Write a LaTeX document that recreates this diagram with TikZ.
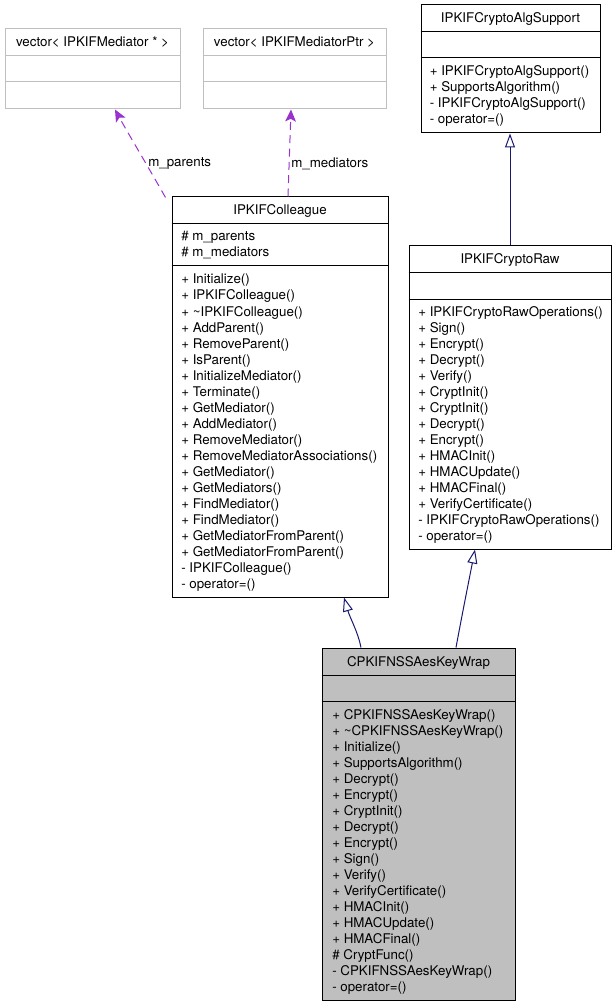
\documentclass[tikz,border=0pt]{standalone}
\usepackage{fontspec}
\setmainfont{TeX Gyre Heros}
\usetikzlibrary{arrows.meta,fit,calc}
\definecolor{inhcol}{HTML}{191970}
\definecolor{depcol}{HTML}{9A32CD}
\definecolor{grayline}{HTML}{BFBFBF}
\definecolor{grayfill}{HTML}{BFBFBF}
\newcommand\memlist[4]{\foreach \t [count=\i from 0] in {#4}{\node[mem] (#1-\i) at (#2,{#3+16*\i}) {\t};}}
\begin{document}
\begin{tikzpicture}[x=0.75pt,y=-0.75pt,
  every node/.style={font=\fontsize{10}{12}\selectfont},
  cls/.style={draw=black,line width=0.75pt,inner sep=0pt,rectangle},
  graycls/.style={draw=grayline,line width=0.75pt,inner sep=0pt,rectangle},
  divider/.style={line width=0.75pt},
  mem/.style={anchor=base west,inner sep=0pt},
  ttl/.style={anchor=base,inner sep=0pt},
  inh/.style={draw=inhcol,line width=0.75pt,-{Triangle[open,length=10.5pt,width=7.5pt]}},
  dep/.style={draw=depcol,line width=0.75pt,dash pattern=on 6pt off 4pt,-{Stealth[length=9pt,width=8pt,inset=2pt]}},
  lbl/.style={anchor=west,inner sep=0pt}]
\useasboundingbox (0,0) rectangle (615,1005);

% vector< IPKIFMediator * >
\node[graycls,fit={(5,29) (180,109)}] (vec1) {};
\draw[divider,grayline] (vec1.west |- 0,56) -- (vec1.east |- 0,56);
\draw[divider,grayline] (vec1.west |- 0,82) -- (vec1.east |- 0,82);
\node[ttl] (vec1t) at (92.5,47) {vector< IPKIFMediator * >};

% vector< IPKIFMediatorPtr >
\node[graycls,fit={(203,29) (386,109)}] (vec2) {};
\draw[divider,grayline] (vec2.west |- 0,56) -- (vec2.east |- 0,56);
\draw[divider,grayline] (vec2.west |- 0,82) -- (vec2.east |- 0,82);
\node[ttl] (vec2t) at (294.5,47) {vector< IPKIFMediatorPtr >};

% IPKIFCryptoAlgSupport
\node[cls,fit={(421,5) (600,133)}] (alg) {};
\draw[divider] (alg.west |- 0,32) -- (alg.east |- 0,32);
\draw[divider] (alg.west |- 0,58) -- (alg.east |- 0,58);
\node[ttl] (algt) at (510.5,23) {IPKIFCryptoAlgSupport};
\memlist{algm}{429.5}{76}{{+ IPKIFCryptoAlgSupport()},{+ SupportsAlgorithm()},{- IPKIFCryptoAlgSupport()},{- operator=()}}

% IPKIFColleague
\node[cls,fit={(172,197) (388,597)}] (coll) {};
\draw[divider] (coll.west |- 0,224) -- (coll.east |- 0,224);
\draw[divider] (coll.west |- 0,266) -- (coll.east |- 0,266);
\node[ttl] (collt) at (280,215) {IPKIFColleague};
\memlist{colla}{181}{241}{{\# m\_parents},{\# m\_mediators}}
\memlist{collm}{181}{284}{{+ Initialize()},{+ IPKIFColleague()},{+ \textasciitilde IPKIFColleague()},{+ AddParent()},{+ RemoveParent()},{+ IsParent()},{+ InitializeMediator()},{+ Terminate()},{+ GetMediator()},{+ AddMediator()},{+ RemoveMediator()},{+ RemoveMediatorAssociations()},{+ GetMediator()},{+ GetMediators()},{+ FindMediator()},{+ FindMediator()},{+ GetMediatorFromParent()},{+ GetMediatorFromParent()},{- IPKIFColleague()},{- operator=()}}

% IPKIFCryptoRaw
\node[cls,fit={(409,246) (611,549)}] (raw) {};
\draw[divider] (raw.west |- 0,273) -- (raw.east |- 0,273);
\draw[divider] (raw.west |- 0,299) -- (raw.east |- 0,299);
\node[ttl] (rawt) at (510,264) {IPKIFCryptoRaw};
\memlist{rawm}{418}{316}{{+ IPKIFCryptoRawOperations()},{+ Sign()},{+ Encrypt()},{+ Decrypt()},{+ Verify()},{+ CryptInit()},{+ CryptInit()},{+ Decrypt()},{+ Encrypt()},{+ HMACInit()},{+ HMACUpdate()},{+ HMACFinal()},{+ VerifyCertificate()},{- IPKIFCryptoRawOperations()},{- operator=()}}

% CPKIFNSSAesKeyWrap
\node[cls,fill=grayfill,fit={(322,648) (515,1000)}] (aes) {};
\draw[divider] (aes.west |- 0,675) -- (aes.east |- 0,675);
\draw[divider] (aes.west |- 0,701) -- (aes.east |- 0,701);
\node[ttl] (aest) at (418.5,666) {CPKIFNSSAesKeyWrap};
\memlist{aesm}{332}{719}{{+ CPKIFNSSAesKeyWrap()},{+ \textasciitilde CPKIFNSSAesKeyWrap()},{+ Initialize()},{+ SupportsAlgorithm()},{+ Decrypt()},{+ Encrypt()},{+ CryptInit()},{+ Decrypt()},{+ Encrypt()},{+ Sign()},{+ Verify()},{+ VerifyCertificate()},{+ HMACInit()},{+ HMACUpdate()},{+ HMACFinal()},{\# CryptFunc()},{- CPKIFNSSAesKeyWrap()},{- operator=()}}

% inheritance
\draw[inh] (aes.north -| 361,0) .. controls (358,632) and (350,618) .. (coll.south -| 344,0);
\draw[inh] (aes.north -| 456,0) .. controls (462,615) and (469,580) .. (raw.south -| 475,0);
\draw[inh] (raw.north -| 510,0) -- (alg.south -| 510,0);

% dependencies
\coordinate (pstart) at ($(coll.north west)+(-6,1)$);
\draw[dep] (pstart) .. controls (150,170) and (125,128) .. (vec1.south -| 115,0);
\draw[dep] (coll.north -| 288,0) -- (vec2.south -| 291,0);
\node[lbl] (lp) at (148,164) {m\_parents};
\node[lbl] (lm) at (291,164) {m\_mediators};
\end{tikzpicture}
\end{document}
